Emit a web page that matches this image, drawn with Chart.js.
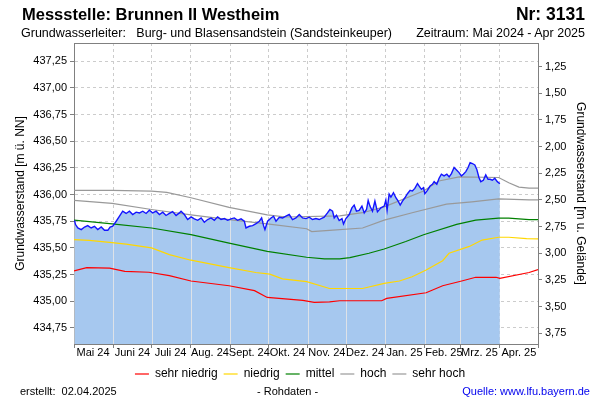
<!DOCTYPE html>
<html><head><meta charset="utf-8">
<script src="https://cdn.jsdelivr.net/npm/chart.js@4/dist/chart.umd.min.js"></script>
<style>
html,body{margin:0;padding:0;background:#fff;}
#wrap{position:relative;width:600px;height:400px;font-family:"Liberation Sans",Arial,sans-serif;overflow:hidden;}
canvas{position:absolute;left:0;top:0;}
.t{position:absolute;white-space:nowrap;color:#000;line-height:1;}
</style></head><body>
<div id="wrap">
<canvas id="c" width="600" height="400"></canvas>
<div class="t" style="left:22px;top:6px;font-size:16.5px;font-weight:bold;">Messstelle: Brunnen II Westheim</div>
<div class="t" style="right:15px;top:6px;font-size:17.5px;font-weight:bold;">Nr: 3131</div>
<div class="t" style="left:21px;top:27px;font-size:12.5px;">Grundwasserleiter:&nbsp;&nbsp;&nbsp;Burg- und Blasensandstein (Sandsteinkeuper)</div>
<div class="t" style="right:15px;top:27px;font-size:12.5px;">Zeitraum: Mai 2024 - Apr 2025</div>
<div class="t" style="left:20px;top:386px;font-size:11px;">erstellt:&nbsp;&nbsp;02.04.2025</div>
<div class="t" style="left:257px;top:386px;font-size:11px;">- Rohdaten -</div>
<div class="t" style="right:10px;top:386px;font-size:11px;color:#0000ee;">Quelle: www.lfu.bayern.de</div>
</div>
<script>
// ---- categories / ticks ----
const monthLabels = ['Mai 24','Juni 24','Juli 24','Aug. 24','Sept. 24','Okt. 24','Nov. 24','Dez. 24','Jan. 25','Feb. 25','Mrz. 25','Apr. 25'];
const monthStartDays = [0,31,61,92,123,153,184,214,245,276,304,335,365];
const leftTicks = [434.75,435.00,435.25,435.50,435.75,436.00,436.25,436.50,436.75,437.00,437.25];
const rightTicks = [1.25,1.50,1.75,2.00,2.25,2.50,2.75,3.00,3.25,3.50,3.75];

// ---- measured series (day since 01.05.2024, m ü. NN) ----
const measDays = [0.4,1.2,3.0,5.7,8.3,10.8,13.5,16.1,18.7,21.4,
24.0,26.6,28.4,30.5,33.2,35.8,38.3,41.0,43.6,46.2,
48.9,51.5,54.1,56.7,59.3,61.9,64.6,67.2,69.8,72.4,
75.0,77.6,80.3,82.9,84.2,86.8,89.4,92.1,94.7,97.3,
100.0,102.5,105.1,107.8,110.4,113.0,115.7,118.3,120.9,123.5,
126.1,128.7,131.4,134.0,135.3,137.9,140.5,143.2,145.8,147.6,
149.1,150.2,152.3,155.0,157.0,158.9,161.5,164.1,166.7,169.3,
171.9,174.6,177.2,179.8,182.5,185.1,187.6,190.3,192.9,196.8,
199.4,201.3,203.4,204.7,206.5,208.6,210.8,212.0,213.9,216.5,
218.6,220.4,222.2,224.3,226.5,228.3,230.1,231.4,232.8,234.8,
236.7,238.7,241.4,244.0,245.3,246.3,247.9,249.3,251.3,253.2,
255.0,256.6,258.4,260.3,262.3,264.4,266.2,268.1,270.2,271.5,
273.3,274.9,276.0,278.0,280.1,281.9,283.3,285.4,287.2,289.0,
291.1,293.3,295.1,296.9,299.0,301.1,302.9,304.7,306.3,308.2,
310.0,311.6,313.4,315.3,316.8,318.6,320.0,322.0,323.9,325.7,
327.3,329.1,331.0,333.0,335.0];
const measValues = [435.759,435.719,435.687,435.672,435.696,435.709,435.687,435.703,435.672,435.696,
435.665,435.665,435.696,435.703,435.750,435.797,435.844,435.823,435.844,435.813,
435.835,435.828,435.844,435.823,435.854,435.828,435.844,435.813,435.835,435.804,
435.823,435.841,435.804,435.828,435.844,435.813,435.766,435.791,435.772,435.759,
435.781,435.741,435.766,435.781,435.759,435.791,435.766,435.775,435.759,435.772,
435.781,435.759,435.772,435.750,435.687,435.703,435.709,435.728,435.750,435.781,
435.709,435.672,435.750,435.781,435.797,435.750,435.788,435.781,435.797,435.813,
435.766,435.781,435.813,435.781,435.775,435.788,435.766,435.775,435.766,435.788,
435.828,435.860,435.844,435.781,435.807,435.757,435.775,435.725,435.775,435.813,
435.875,435.901,435.844,435.851,435.892,435.828,435.860,435.945,435.892,435.844,
435.939,435.838,435.875,435.892,435.948,435.854,436.005,435.976,436.017,435.970,
435.939,435.901,435.939,435.970,436.008,436.040,436.033,436.058,436.102,436.080,
436.049,436.064,436.008,436.040,436.080,436.096,436.121,436.096,436.153,436.191,
436.175,436.191,436.165,436.196,436.253,436.228,436.206,436.175,436.191,436.215,
436.253,436.300,436.291,436.278,436.238,436.158,436.121,436.134,436.184,436.143,
436.143,436.134,436.153,436.121,436.102];

// ---- reference levels ----
const sehrNiedrigDays = [0,10,28,40,59,75,92,122,142,152,180,189,201,209,242,246,277,290,305,316,332,335,358,365];
const sehrNiedrig = [435.285,435.316,435.31,435.28,435.272,435.24,435.19,435.146,435.10,435.036,435.008,434.99,434.995,435.005,435.005,435.027,435.08,435.146,435.19,435.225,435.225,435.215,435.27,435.297];
const niedrigDays = [0,12,30,41,61,75,92,122,143,154,164,183,201,227,244,256,266,277,290,295,311,321,334,342,356,365];
const niedrig = [435.577,435.571,435.55,435.536,435.50,435.437,435.385,435.316,435.27,435.255,435.21,435.184,435.12,435.12,435.168,435.19,435.23,435.294,435.38,435.45,435.514,435.574,435.60,435.60,435.587,435.585];
const mittelDays = [0,30,61,92,122,152,183,197,209,217,232,244,261,275,301,316,334,342,358,365];
const mittel = [435.76,435.725,435.687,435.624,435.545,435.467,435.413,435.397,435.397,435.41,435.45,435.49,435.56,435.624,435.72,435.76,435.78,435.78,435.766,435.766];
const hochDays = [0,30,61,92,122,152,183,187,201,227,244,266,293,313,334,358,365];
const hoch = [435.945,435.917,435.86,435.81,435.766,435.726,435.68,435.653,435.665,435.687,435.76,435.83,435.91,435.932,435.96,435.95,435.95];
const sehrHochDays = [0,30,61,73,92,122,152,167,209,227,244,275,287,303,334,342,350,358,365];
const sehrHoch = [436.04,436.04,436.033,436.02,435.97,435.88,435.81,435.79,435.80,435.83,435.885,436.033,436.127,436.165,436.16,436.11,436.07,436.06,436.06];

const GROUND = 438.45;   // Geländehöhe m ü. NN
const Y_MIN = 434.60, Y_MAX = 437.42;

const pts = (xs, ys) => xs.map((x, i) => ({x: x, y: ys[i]}));
const fmt = v => v.toFixed(2).replace('.', ',');

Chart.defaults.font.family = '"Liberation Sans", Arial, sans-serif';
Chart.defaults.color = '#000';

const fillGrid = {
  id: 'fillGrid',
  beforeDatasetsDraw(chart) {
    const meta = chart.getDatasetMeta(0);
    const p = meta.data;
    if (!p.length) return;
    const ctx = chart.ctx, area = chart.chartArea, xs = chart.scales.x;
    ctx.save();
    ctx.beginPath();
    ctx.moveTo(p[0].x, area.bottom);
    p.forEach(e => ctx.lineTo(e.x, e.y));
    ctx.lineTo(p[p.length - 1].x, area.bottom);
    ctx.closePath();
    ctx.clip();
    ctx.strokeStyle = '#dde2e8';
    ctx.lineWidth = 1;
    xs.ticks.forEach(t => {
      const px = Math.round(xs.getPixelForValue(t.value)) + 0.5;
      ctx.beginPath();
      ctx.moveTo(px, area.top);
      ctx.lineTo(px, area.bottom);
      ctx.stroke();
    });
    ctx.restore();
  }
};

new Chart(document.getElementById('c'), {
  type: 'line',
  data: {
    datasets: [
      {label: 'Messwerte', data: pts(measDays, measValues), borderColor: '#1414ff', borderWidth: 1.4,
       backgroundColor: '#a6c8ef', fill: 'start', pointRadius: 0, tension: 0},
      {label: 'sehr niedrig', data: pts(sehrNiedrigDays, sehrNiedrig), borderColor: '#ff0000', borderWidth: 1.2, pointRadius: 0, fill: false},
      {label: 'niedrig', data: pts(niedrigDays, niedrig), borderColor: '#ffd700', borderWidth: 1.2, pointRadius: 0, fill: false},
      {label: 'mittel', data: pts(mittelDays, mittel), borderColor: '#008000', borderWidth: 1.2, pointRadius: 0, fill: false},
      {label: 'hoch', data: pts(hochDays, hoch), borderColor: '#999999', borderWidth: 1.2, pointRadius: 0, fill: false},
      {label: 'sehr hoch', data: pts(sehrHochDays, sehrHoch), borderColor: '#999999', borderWidth: 1.2, pointRadius: 0, fill: false}
    ]
  },
  options: {
    responsive: false,
    animation: false,
    events: [],
    layout: {padding: {top: 43, bottom: 10, left: 0, right: 0}},
    plugins: {
      filler: {drawTime: 'beforeDatasetsDraw'},
      tooltip: {enabled: false},
      legend: {
        position: 'bottom',
        labels: {usePointStyle: true, pointStyle: 'line', pointStyleWidth: 14, boxWidth: 14, padding: 6,
                 font: {size: 12}, color: '#000', filter: item => item.datasetIndex > 0}
      }
    },
    scales: {
      x: {
        type: 'linear', position: 'bottom', min: 0, max: 365,
        afterBuildTicks: s => { s.ticks = monthStartDays.map(v => ({value: v})); },
        afterFit: s => { s.height = 18; },
        ticks: {autoSkip: false, maxRotation: 0, minRotation: 0, labelOffset: 19, padding: -2,
                font: {size: 11}, color: '#000', callback: (v, i) => monthLabels[i] || ''},
        grid: {color: '#cccccc', tickLength: 4, tickColor: '#808080'},
        border: {color: '#808080', dash: [3, 3]}
      },
      xTop: {
        type: 'linear', position: 'top', min: 0, max: 365,
        afterFit: s => { s.height = 0; },
        ticks: {display: false},
        grid: {display: false, drawTicks: false},
        border: {display: true, color: '#808080'}
      },
      y: {
        type: 'linear', position: 'left', min: Y_MIN, max: Y_MAX,
        afterBuildTicks: s => { s.ticks = leftTicks.map(v => ({value: v})); },
        afterFit: s => { s.width = 74; },
        ticks: {font: {size: 11}, color: '#000', padding: 3, callback: v => fmt(v)},
        grid: {color: '#cccccc', tickLength: 4, tickColor: '#808080'},
        border: {color: '#808080', dash: [3, 3]},
        title: {display: true, text: 'Grundwasserstand [m ü. NN]', font: {size: 12}, color: '#000', padding: {top: 13, bottom: 0}}
      },
      y2: {
        type: 'linear', position: 'right', reverse: true, min: GROUND - Y_MAX, max: GROUND - Y_MIN,
        afterBuildTicks: s => { s.ticks = rightTicks.map(v => ({value: v})); },
        afterFit: s => { s.width = 62; },
        ticks: {font: {size: 11}, color: '#000', padding: 3, callback: v => fmt(v)},
        grid: {drawOnChartArea: false, tickLength: 4, tickColor: '#808080'},
        border: {color: '#808080'},
        title: {display: true, text: 'Grundwasserstand [m u. Gelände]', font: {size: 12}, color: '#000', padding: {top: 12, bottom: 0}}
      }
    }
  },
  plugins: [fillGrid]
});
</script>
</body></html>
